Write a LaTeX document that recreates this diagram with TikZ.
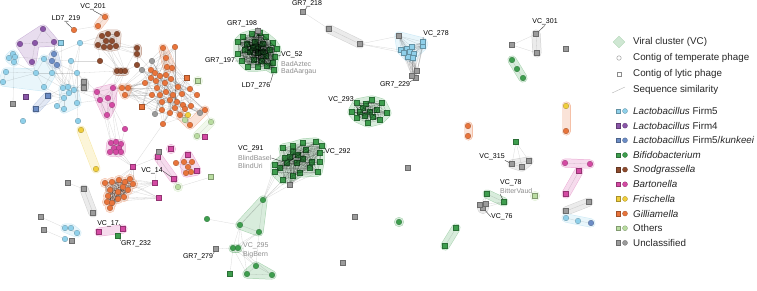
\documentclass[tikz,border=0pt]{standalone}
\usepackage{fontspec}
\setmainfont{Liberation Sans}
\usetikzlibrary{shapes.geometric}
\pgfdeclarelayer{hull}
\pgfdeclarelayer{edge}
\pgfsetlayers{hull,edge,main}

\definecolor{cfa}{HTML}{8FD0EA} % Lactobacillus Firm5
\definecolor{cfb}{HTML}{8A56A8} % Lactobacillus Firm4
\definecolor{cfk}{HTML}{6C8DC6} % Firm5/kunkeei
\definecolor{cbi}{HTML}{3E9E4E} % Bifidobacterium
\definecolor{csn}{HTML}{8E4B2E} % Snodgrassella
\definecolor{cba}{HTML}{D44AA3} % Bartonella
\definecolor{cfr}{HTML}{F0CE3C} % Frischella
\definecolor{cgi}{HTML}{E8743B} % Gilliamella
\definecolor{cot}{HTML}{B9DCA0} % Others
\definecolor{cun}{HTML}{9B9B9B} % Unclassified

\tikzset{
    tc/.style={circle, inner sep=0pt, minimum size=5.6pt, fill=#1, draw=#1!70!black, line width=0.3pt}, % temperate contig
    lc/.style={rectangle, inner sep=0pt, minimum size=5pt, fill=#1, draw=#1!70!black, line width=0.3pt}, % lytic contig
    hull/.style={draw=#1!20, fill=#1!20, line width=8pt, line join=round, line cap=round,
        preaction={draw=#1!45, line width=9pt, line join=round, line cap=round}}, % viral cluster
    sim/.style={draw=black, opacity=0.15, line width=0.3pt},
    dense/.style={draw=black, opacity=0.25, line width=0.3pt},
    lead/.style={draw=black!75, line width=0.4pt},
    lbl/.style={inner sep=0pt, font=\fontsize{7}{8}\selectfont},
    sub/.style={lbl, text=black!45},
    leg/.style={inner sep=0pt, anchor=west, font=\fontsize{9.8}{11}\selectfont, text=black!85},
}

% every pair of a cluster
\newcommand\linkall[3]{%
  \foreach \i in {1,...,#2}{\foreach \j in {1,...,#2}{\ifnum\i<\j\relax\draw[#3] (#1\i) -- (#1\j);\fi}}}
% some pairs of a cluster
\newcommand\linksome[4]{%
  \foreach \i in {1,...,#2}{\foreach \k in {1,...,#3}{%
    \pgfmathtruncatemacro\j{mod(\i*7+\k*11,#2)+1}%
    \ifnum\i=\j\relax\else\draw[#4] (#1\i) -- (#1\j);\fi}}}

\begin{document}
\begin{tikzpicture}[x=1pt, y=-1pt]
\useasboundingbox (0,0) rectangle (757,290);

% left part
\foreach \n/\x/\y in {1/43/29, 2/20/44, 3/35/43, 4/54/42, 5/32/62}
    \node[tc=cfb] (pu\n) at (\x,\y) {};
\node[lc=cfb] (pu6) at (26,97) {};
\foreach \n/\x/\y in {1/13/54, 2/9/58, 3/15/57, 4/14/62, 5/6/72, 6/3/82, 7/36/73, 8/44/59, 9/44/87, 10/52/73,
        11/63/88, 12/68/87, 13/74/90, 14/69/93, 15/64/98, 16/77/103, 17/64/109, 18/71/61, 19/77/73, 20/80/43,
        21/57/106, 22/78/121, 23/23/121, 25/65/228, 26/71/228, 27/77/233, 28/65/239, 29/566/218, 30/578/221}
    \node[tc=cfa] (fa\n) at (\x,\y) {};
\node[lc=cfa] (fa24) at (61,43) {};
\foreach \n/\x/\y in {1/54/54, 2/52/61, 3/57/65, 6/591/223}
    \node[tc=cfk] (fk\n) at (\x,\y) {};
\node[lc=cfk] (fk4) at (48,96) {};
\node[lc=cfk] (fk5) at (36,109) {};
\foreach \n/\x/\y in {1/102/36, 2/108/34, 3/117/34, 4/98/45, 5/106/41, 6/112/41, 7/110/47, 8/104/47, 9/116/46,
        10/137/48, 11/137/54, 12/100/61, 13/137/65, 14/117/71, 15/121/71, 16/125/71}
    \node[tc=csn] (sn\n) at (\x,\y) {};
\foreach \n/\x/\y in {0/74/30, 1/98/26, 2/105/17, 3/468/126, 4/468/136, 5/566/131}
    \node[tc=cgi] (or\n) at (\x,\y) {};
\foreach \n/\x/\y in {1/97/92, 2/113/88, 3/100/100, 4/112/105, 5/107/115, 6/108/98, 7/125/129, 19/565/163, 20/590/164}
    \node[tc=cba] (ba\n) at (\x,\y) {};
\foreach \n/\x/\y in {1/111/143, 2/116/142, 3/121/144, 4/114/148, 5/119/148, 6/110/152, 7/116/152, 8/121/152}
    \node[tc=cba] (bb\n) at (\x,\y) {};
\foreach \n/\x/\y in {8/133/167, 9/155/183, 10/159/198, 11/205/137, 12/158/157, 13/174/179, 14/171/149,
        15/188/155, 16/197/171, 17/99/232, 18/123/229, 21/579/171, 22/566/194}
    \node[lc=cba] (ba\n) at (\x,\y) {};
\foreach \n/\x/\y in {1/81/130, 2/96/169, 3/188/115, 4/566/106}
    \node[tc=cfr] (fr\n) at (\x,\y) {};
\foreach \n/\x/\y in {1/163/48, 2/175/47, 3/166/58, 4/167/67, 5/172/68, 6/151/70, 7/155/73, 8/160/76, 9/151/78,
        10/156/81, 11/166/75, 12/171/79, 13/165/83, 14/145/83, 15/152/95, 16/160/95, 17/166/92, 18/173/95,
        19/182/94, 20/190/89, 21/197/95, 22/162/102, 23/170/100, 24/177/102, 25/183/105, 26/175/108,
        27/185/109, 28/191/106, 29/170/113, 30/180/115, 31/162/110, 32/205/110, 33/163/124, 34/157/88,
        35/178/87, 36/190/125, 37/122/88, 38/128/88, 39/125/95}
    \node[tc=cgi] (gi\n) at (\x,\y) {};
\node[lc=cgi] (gi40) at (187,78) {};
\node[lc=cgi] (gi41) at (142,107) {};
\foreach \n/\x/\y in {42/152/61, 43/142/70, 44/155/114, 45/200/113}
    \node[tc=cun] (gi\n) at (\x,\y) {};
\foreach \n/\x/\y in {1/105/183, 2/112/182, 3/119/180, 4/125/182, 5/130/179, 6/133/184, 7/123/187, 8/128/190,
        9/118/192, 10/110/190, 11/108/196, 12/107/202, 13/112/203, 14/110/208, 15/118/199, 16/124/197}
    \node[tc=cgi] (og\n) at (\x,\y) {};
\foreach \n/\x/\y in {1/176/163, 2/184/162, 3/188/167, 4/186/173, 5/191/172, 6/192/162}
    \node[tc=cgi] (oh\n) at (\x,\y) {};
\foreach \n/\x/\y in {1/185/120, 3/211/122, 4/197/136, 5/178/187}
    \node[tc=cot] (ot\n) at (\x,\y) {};
\foreach \n/\x/\y in {2/198/81, 6/211/177, 7/535/196}
    \node[lc=cot] (ot\n) at (\x,\y) {};
\foreach \n/\x/\y in {1/84/82, 2/84/88, 3/13/104, 4/159/152, 5/84/189, 6/93/213, 7/68/183, 8/41/217, 9/44/230,
        10/72/241, 11/216/249, 12/303/12, 13/329/29, 14/360/44, 15/536/34, 16/537/53, 17/512/45, 18/566/49,
        19/512/164, 20/522/167, 21/529/161, 22/408/168, 23/483/208, 24/480/205, 25/486/204, 26/566/211,
        27/589/202, 28/355/217, 29/343/263}
    \node[lc=cun] (un\n) at (\x,\y) {};

% Bifidobacterium clusters
\foreach \n/\x/\y in {1/238/42, 2/243/37, 3/252/34, 4/260/33, 5/266/37, 6/273/43, 7/277/49, 8/275/57, 9/273/63,
        10/267/66, 11/258/67, 12/248/67, 13/242/61, 14/238/54, 15/247/44, 16/255/42, 17/263/44, 18/270/50,
        19/250/52, 20/258/53, 21/266/56, 22/254/60, 23/262/61, 24/245/50, 25/258/47, 26/263/52, 27/253/48, 28/274/70}
    \node[lc=cbi] (ga\n) at (\x,\y) {};
\node[lc=cun] (ga29) at (258,31) {};
\linkall{ga}{29}{dense} % drawn over the contigs
\foreach \n/\x/\y in {1/283/148, 2/293/146, 3/303/143, 4/316/142, 5/322/146, 6/293/152, 7/298/155, 8/290/157,
        9/285/158, 10/275/165, 11/280/168, 12/287/163, 13/297/163, 14/303/159, 15/312/162, 16/320/162,
        17/310/168, 18/318/172, 19/300/173, 20/293/176, 21/283/180, 22/275/172, 23/320/153, 24/306/150}
    \node[lc=cbi] (gb\n) at (\x,\y) {};
\node[lc=cun] (gb25) at (290,185) {};
\linkall{gb}{25}{sim}
\foreach \n/\x/\y in {1/357/103, 2/372/100, 3/382/103, 4/387/113, 5/380/120, 6/368/123, 7/357/118, 8/352/112,
        9/363/108, 10/370/112, 11/377/110, 12/365/116, 13/373/117, 14/360/112, 15/366/104}
    \node[lc=cbi] (gc\n) at (\x,\y) {};
\linkall{gc}{15}{dense}
\foreach \n/\x/\y in {0/207/219, 1/263/200, 2/240/225, 3/259/232, 4/233/248, 5/238/248, 6/256/266, 7/247/274, 8/272/275}
    \node[tc=cbi] (bg\n) at (\x,\y) {};
\node[lc=cbi] (bg9) at (230,274) {};
\foreach \n/\x/\y in {2/512/60, 3/517/69, 4/523/78, 8/399/222}
    \node[tc=cbi] (gd\n) at (\x,\y) {};
\foreach \n/\x/\y in {1/118/236, 5/516/142, 6/487/194, 7/504/202, 9/456/228, 10/445/246}
    \node[lc=cbi] (gd\n) at (\x,\y) {};
\foreach \n/\x/\y in {1/401/50, 2/407/49, 3/412/47, 4/410/52, 5/414/54, 6/413/58, 7/408/57, 8/404/53, 9/423/46, 10/423/42}
    \node[lc=cfa] (lb\n) at (\x,\y) {};
\foreach \n/\x/\y in {11/399/36, 12/417/71, 13/416/78, 14/412/76}
    \node[lc=cun] (lb\n) at (\x,\y) {};

% viral clusters
\begin{pgfonlayer}{hull}
    \draw[hull=cfb] (pu2.center) -- (pu1.center) -- (pu4.center) -- (pu3.center) -- (pu5.center) -- cycle;
    \draw[hull=cfa] (fa1.center) -- (fa3.center) -- (fa4.center) -- (fa2.center) -- cycle;
    \draw[hull=cfa] (fa5.center) -- (fa7.center) -- (fa8.center) -- (fa10.center) -- (fa9.center) -- (fa6.center) -- cycle;
    \draw[hull=cfa] (fa11.center) -- (fa13.center) -- (fa16.center) -- (fa17.center) -- (fa15.center) -- cycle;
    \draw[hull=cfk] (fk1.center) -- (fk3.center) -- (fk2.center) -- cycle;
    \draw[hull=cfk] (fk4.center) -- (fk5.center);
    \draw[hull=cun] (un1.center) -- (un2.center);
    \draw[hull=csn] (sn2.center) -- (sn3.center) -- (sn9.center) -- (sn7.center) -- (sn4.center) -- (sn1.center) -- cycle;
    \draw[hull=csn] (sn10.center) -- (sn11.center);
    \draw[hull=csn] (sn14.center) -- (sn16.center);
    \draw[hull=cgi] (or1.center) -- (or2.center);
    \draw[hull=cba] (ba1.center) -- (ba2.center) -- (ba4.center) -- (ba5.center) -- (ba3.center) -- cycle;
    \draw[hull=cba] (bb1.center) -- (bb3.center) -- (bb8.center) -- (bb6.center) -- cycle;
    \draw[hull=cfr] (fr1.center) -- (fr2.center);
    \draw[hull=cgi] (gi1.center) -- (gi5.center) -- (gi4.center) -- cycle;
    \draw[hull=cgi] (gi37.center) -- (gi38.center) -- (gi39.center) -- cycle;
    \draw[hull=cgi, fill=none] (gi30.center) -- (gi36.center) -- (gi32.center);
    \draw[hull=cot] (ot2.center) circle (0.5pt);
    \draw[hull=cot] (ot3.center) -- (ot4.center);
    \foreach \n in {1,...,16} \draw[hull=cgi] (og\n.center) circle (0.5pt);
    \draw[hull=cun] (un5.center) -- (un6.center);
    \draw[hull=cfa] (fa25.center) -- (fa26.center) -- (fa27.center) -- cycle;
    \draw[hull=cba] (ba17.center) -- (ba18.center);
    \draw[hull=cba] (ba12.center) -- (ba13.center);
    \draw[hull=cba] (ba14.center) circle (0.5pt);
    \draw[hull=cba] (ba15.center) -- (oh6.center) -- (ba16.center) -- (oh4.center) -- (oh2.center) -- cycle;
    \draw[hull=cot] (ot5.center) circle (0.5pt);
    \draw[hull=cbi] (ga1.center) -- (ga2.center) -- (ga3.center) -- (ga4.center) -- (ga5.center) -- (ga6.center) -- (ga7.center)
        -- (ga8.center) -- (ga9.center) -- (ga28.center) -- (ga10.center) -- (ga11.center) -- (ga12.center) -- (ga13.center) -- (ga14.center) -- cycle;
    \draw[hull=cbi] (gb1.center) -- (gb2.center) -- (gb3.center) -- (gb4.center) -- (gb5.center) -- (gb23.center) -- (gb16.center)
        -- (gb18.center) -- (gb19.center) -- (gb20.center) -- (gb21.center) -- (gb22.center) -- (gb10.center) -- (gb9.center) -- cycle;
    \draw[hull=cbi] (gc1.center) -- (gc2.center) -- (gc3.center) -- (gc4.center) -- (gc5.center) -- (gc6.center) -- (gc7.center) -- (gc8.center) -- cycle;
    \draw[hull=cbi] (bg1.center) -- (bg3.center) -- (bg2.center) -- cycle;
    \draw[hull=cbi] (bg4.center) -- (bg5.center);
    \draw[hull=cbi] (bg6.center) -- (bg8.center) -- (bg7.center) -- cycle;
    \draw[hull=cfa] (lb11.center) -- (lb10.center) -- (lb9.center) -- (lb5.center) -- (lb6.center) -- (lb7.center) -- (lb8.center) -- (lb1.center) -- cycle;
    \draw[hull=cun] (un13.center) -- (un14.center);
    \draw[hull=cun] (un15.center) -- (un16.center);
    \draw[hull=cbi] (gd2.center) -- (gd4.center);
    \draw[hull=cgi] (or3.center) -- (or4.center);
    \draw[hull=cgi] (fr4.center) -- (or5.center);
    \draw[hull=cun] (un19.center) -- (un20.center) -- (un21.center) -- cycle;
    \draw[hull=cbi] (gd6.center) -- (gd7.center);
    \draw[hull=cun] (un23.center) circle (1.5pt);
    \draw[hull=cot] (ot7.center) circle (0.5pt);
    \draw[hull=cbi] (gd8.center) circle (0.5pt);
    \draw[hull=cbi] (gd9.center) -- (gd10.center);
    \draw[hull=cba] (ba19.center) -- (ba20.center);
    \draw[hull=cba] (ba21.center) -- (ba22.center);
    \draw[hull=cun] (un26.center) -- (un27.center);
    \draw[hull=cfa] (fa29.center) -- (fk6.center);
\end{pgfonlayer}

% sequence similarity
\begin{pgfonlayer}{edge}
    \linkall{lb}{14}{sim}
    \linkall{sn}{9}{sim}
    \linkall{og}{16}{dense}
    \linkall{bb}{8}{sim}
    \linkall{ba}{6}{sim}
    \linksome{gi}{45}{4}{sim}
    \foreach \a/\b in {pu1/pu3, pu1/pu4, pu3/pu4, pu2/pu3, pu3/pu5, pu4/fk1, pu5/fa7,
        fa1/fa3, fa1/fa2, fa3/fa4, fa2/fa4, fa3/fa8, fa4/fa7, fa5/fa7, fa6/fa7, fa5/fa6, fa7/fa8, fa7/fa9,
        fa7/fa10, fa8/fa10, fa8/fa18, fa9/fa10, fa10/fa11, fa10/fa12, fa10/fa19, fa18/fa11, fa18/fa13,
        fa19/fa13, fa19/fa16, fa20/fa19, fa20/fa12, fa24/fa8, fa24/fa11, fa11/fa21, fa14/fa21, fa16/fa22,
        fa13/un1, fa12/un2, fa19/un1, fk1/fa10, fk2/fa11, fk3/fa13, fk3/fa12, fk1/fa20, fk2/fa19, fk1/fk2,
        fk2/fk3, fk1/fk3, fk4/fa11, fk4/fa14, fk4/fa15, fk5/fa15, fk4/fk5, fa9/fa15, fa11/fa12, fa12/fa13,
        fa13/fa14, fa14/fa15, fa15/fa17, fa16/fa13, fa17/fa21, un3/fa4, fa7/fa11, fa8/fa12, fa18/fa12,
        fa20/sn4, fa19/ba1, fa18/sn12, fa13/ba1, fa16/ba3, fa12/ba3, fa19/sn14, fa20/sn1,
        sn10/sn11, sn4/sn10, sn6/sn10, sn9/sn10, sn9/sn11, sn7/sn11, sn1/sn14, sn4/sn15, sn7/sn14, sn8/sn15,
        sn5/sn16, sn9/sn16, sn12/sn4, sn12/sn14, sn13/sn11, sn13/sn16, sn10/sn16, sn14/sn15, sn15/sn16,
        sn14/ba2, sn15/ba2, sn16/ba2, sn16/ba4, sn14/ba1, sn11/gi6, sn13/gi9, or0/or1, or1/or2,
        ba5/bb1, ba5/bb2, ba4/bb3, ba4/bb2, ba4/ba7, ba7/bb3, bb6/ba8, bb7/ba8, bb8/ba8, ba3/bb1,
        ba8/og5, ba8/og3, ba8/og4, ba8/og6, ba8/og2, ba8/gi33, ba8/ba12, ba2/gi14, gi37/ba2, gi38/gi14,
        og6/ba9, og8/ba9, og3/ba9, og7/ba9, og13/ba9, og5/ba9, og4/ba10, og16/ba10, og6/ba10, og8/ba10,
        og15/ba10, og12/ba10, ba9/ba12,
        un4/ba12, ba12/ba13, oh1/oh2, oh1/oh3, oh1/oh4, oh2/oh3, oh3/oh4, oh3/oh5, oh4/oh5, oh2/oh6,
        oh6/oh5, ba15/oh2, ba16/oh5, ot5/ot6, ot5/ba13, ot1/gi30, ot3/ot4, ot3/gi32, ot2/gi20, fr3/gi30,
        un7/un5, un5/un6, un8/fa25, un9/fa28, fa25/fa26, fa26/fa27, fa25/fa27,
        bg1/gb21, bg1/gb20, bg1/gb10, bg1/gb25, bg1/gb22, bg1/gb11, bg2/gb21, bg1/bg2, bg1/bg3, bg2/bg3,
        bg2/bg4, bg2/bg5, bg3/bg4, bg3/bg5, bg0/bg2, bg4/bg6, bg4/bg7, bg5/bg6, bg5/bg8, bg4/bg9, bg6/bg7,
        bg6/bg8, bg7/bg8, un11/bg4, bg2/bg7, bg3/bg6,
        un12/un13, un13/un14, un14/lb1, un14/lb8, un14/lb11,
        un15/un16, un17/un15, un17/un16, gd2/gd3, gd3/gd4,
        gd5/un19, gd5/un20, gd5/un21, un19/un20, un20/un21, un19/un21,
        gd6/gd7, gd6/un23, gd7/un23, gd6/un24, gd7/un25, gd9/gd10, ba21/ba22, ba19/ba20, un26/un27,
        fa29/fa30, fa30/fk6}
        \draw[sim] (\a) -- (\b);
    \foreach \a/\b in {un23/un24, un23/un25, un24/un25}
        \draw[dense] (\a) -- (\b);
\end{pgfonlayer}

% labels
\node[lbl] (tvc201) at (93,7) {VC\_201};
\node[lbl] (tld219) at (66,19) {LD7\_219};
\node[lbl] (tgr198) at (242,24) {GR7\_198};
\node[lbl] (tgr197) at (220,61) {GR7\_197};
\node[lbl, anchor=west] (tvc52) at (281,55) {VC\_52};
\node[sub, anchor=west] (tbadaz) at (281,64) {BadAztec};
\node[sub, anchor=west] (tbadaa) at (281,72) {BadAargau};
\node[lbl] (tld276) at (256,86) {LD7\_276};
\node[lbl] (tgr218) at (307,4) {GR7\_218};
\node[lbl] (tvc278) at (436,34) {VC\_278};
\node[lbl] (tgr229) at (395,85) {GR7\_229};
\node[lbl] (tvc301) at (545,22) {VC\_301};
\node[lbl] (tvc293) at (341,100) {VC\_293};
\node[lbl, anchor=west] (tvc291) at (238,149) {VC\_291};
\node[sub, anchor=west] (tblbas) at (238,158) {BlindBasel};
\node[sub, anchor=west] (tbluri) at (238,166) {BlindUri};
\node[lbl, anchor=west] (tvc292) at (325,152) {VC\_292};
\node[lbl] (tvc14) at (152,171) {VC\_14};
\node[lbl] (tvc17) at (108,224) {VC\_17};
\node[lbl] (tgr232) at (136,244) {GR7\_232};
\node[lbl] (tgr279) at (198,257) {GR7\_279};
\node[sub, anchor=west] (tvc295) at (243,246) {VC\_295};
\node[sub, anchor=west] (tbigb) at (243,255) {BigBern};
\node[lbl] (tvc315) at (492,157) {VC\_315};
\node[lbl, anchor=west] (tvc78) at (500,183) {VC\_78};
\node[sub, anchor=west] (tbitter) at (500,191) {BitterVaud};
\node[lbl, anchor=west] (tvc76) at (491,217) {VC\_76};
\draw[lead]
    (tvc201.south) -- (or2)
    (tld219.south) -- (or0)
    (tgr198.south east) -- (ga29)
    (tgr197.east) -- (ga13)
    (tvc52.west) -- (ga8)
    (tld276.north east) -- (ga28)
    (tgr218.south) -- (un12)
    (tvc278.south west) -- (lb10)
    (tgr229.north east) -- (lb13)
    (tvc301.south) -- (un15)
    (tvc293.south east) -- (gc14)
    (tblbas.east) -- (gb12)
    (tvc292.west) -- (gb23)
    (tvc14.east) -- (ba13)
    (tvc17.east) -- (ba18)
    (tgr232.north west) -- (gd1)
    (tgr279.north east) -- (un11)
    (tvc315.south east) -- (un19)
    (tbitter.south west) -- (gd7)
    (tvc76.west) -- (un23);

% legend
\node[diamond, inner sep=0pt, minimum size=12pt, fill=cbi!25, draw=cbi!40] (lgvc) at (619,42) {};
\node[leg] (lgvct) at (633,42) {Viral cluster (VC)};
\node[circle, inner sep=0pt, minimum size=4.5pt, draw=black!45, line width=0.4pt] (lgtmp) at (619,58) {};
\node[leg] (lgtmpt) at (633,58) {Contig of temperate phage};
\node[rectangle, inner sep=0pt, minimum size=4.5pt, draw=black!45, line width=0.4pt] (lglyt) at (619,74) {};
\node[leg] (lglytt) at (633,74) {Contig of lytic phage};
\coordinate (lgs1) at (612,93);
\coordinate (lgs2) at (625,87);
\draw[draw=black!30, line width=0.4pt] (lgs1) -- (lgs2);
\node[leg] (lgsimt) at (633,90) {Sequence similarity};
\foreach \k/\c/\t in {0/cfa/{\textit{Lactobacillus} Firm5}, 1/cfb/{\textit{Lactobacillus} Firm4},
        2/cfk/{\textit{Lactobacillus} Firm5/\textit{kunkeei}}, 3/cbi/{\textit{Bifidobacterium}},
        4/csn/{\textit{Snodgrassella}}, 5/cba/{\textit{Bartonella}}, 6/cfr/{\textit{Frischella}},
        7/cgi/{\textit{Gilliamella}}, 8/cot/{Others}, 9/cun/{Unclassified}}{
    \node[lc=\c, minimum size=4.6pt] (lgq\k) at (618,{111+14.65*\k}) {};
    \node[tc=\c, minimum size=5pt] (lgc\k) at (625,{111+14.65*\k}) {};
    \node[leg] (lgt\k) at (633,{111+14.65*\k}) {\t};
}
\end{tikzpicture}
\end{document}
